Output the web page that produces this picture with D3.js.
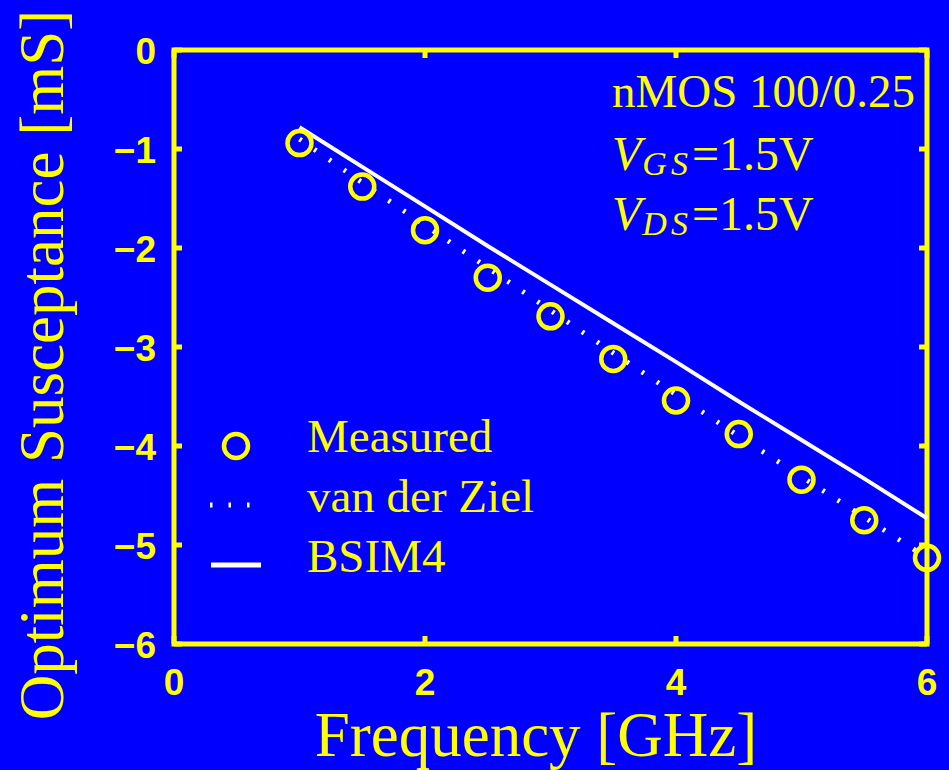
<!DOCTYPE html>
<html lang="en">
<head>
<meta charset="utf-8">
<script src="https://d3js.org/d3.v7.min.js"></script>
<style type="text/css">
body {
	margin: 0;
	background-color: #0000ff;
}
.tick-label {
	font-family: "Liberation Sans", Arial, sans-serif;
	font-weight: bold;
	font-size: 37px;
	fill: #ffff00;
}
.serif {
	font-family: "Liberation Serif", "Times New Roman", serif;
	fill: #ffff00;
}
</style>
</head>
<body>
<script type="text/javascript">

// chart data
var freq = [1, 1.5, 2, 2.5, 3, 3.5, 4, 4.5, 5, 5.5, 6];
var measured = [-0.94, -1.38, -1.82, -2.30, -2.69, -3.12, -3.54, -3.88, -4.34, -4.75, -5.13];
var vanDerZiel = [-0.90, -1.34, -1.77, -2.20, -2.63, -3.06, -3.48, -3.90, -4.31, -4.72, -5.13];
var bsim4 = [-0.78, -1.18, -1.58, -1.98, -2.37, -2.76, -3.15, -3.55, -3.94, -4.33, -4.73];
var xTicks = [0, 2, 4, 6];
var yTicks = [0, -1, -2, -3, -4, -5, -6];

var width = 949;
var height = 770;
var yellow = "#ffff00";

var svg = d3.select("body")
  .append("svg")
  .attr("width", width)
  .attr("height", height);

svg.append("rect")
  .attr("width", width)
  .attr("height", height)
  .style("fill", "#0000ff");

var x = d3.scaleLinear().domain([0, 6]).range([174, 927]);
var y = d3.scaleLinear().domain([-6, 0]).range([644, 50]);

// inward tick marks on all four sides
var tickLen = 8;
yTicks.forEach(function(t) {
  svg.append("line")
    .attr("x1", x(0)).attr("x2", x(0) + tickLen)
    .attr("y1", y(t)).attr("y2", y(t))
    .style("stroke", yellow).style("stroke-width", 5);
  svg.append("line")
    .attr("x1", x(6)).attr("x2", x(6) - tickLen)
    .attr("y1", y(t)).attr("y2", y(t))
    .style("stroke", yellow).style("stroke-width", 5);
  svg.append("text")
    .attr("class", "tick-label")
    .attr("x", 156)
    .attr("y", y(t) + 14)
    .attr("text-anchor", "end")
    .text(t < 0 ? "\u2212" + Math.abs(t) : t);
});
xTicks.forEach(function(t) {
  svg.append("line")
    .attr("x1", x(t)).attr("x2", x(t))
    .attr("y1", y(-6)).attr("y2", y(-6) - tickLen)
    .style("stroke", yellow).style("stroke-width", 5);
  svg.append("line")
    .attr("x1", x(t)).attr("x2", x(t))
    .attr("y1", y(0)).attr("y2", y(0) + tickLen)
    .style("stroke", yellow).style("stroke-width", 5);
  svg.append("text")
    .attr("class", "tick-label")
    .attr("x", x(t))
    .attr("y", 695)
    .attr("text-anchor", "middle")
    .text(t);
});

// axes box
svg.append("rect")
  .attr("x", x(0)).attr("y", y(0))
  .attr("width", x(6) - x(0))
  .attr("height", y(-6) - y(0))
  .style("fill", "none")
  .style("stroke", yellow)
  .style("stroke-width", 5);

var line = d3.line()
  .x(function(d) { return x(d[0]); })
  .y(function(d) { return y(d[1]); });

// BSIM4 solid line
svg.append("path")
  .datum(freq.map(function(f, i) { return [f, bsim4[i]]; }))
  .attr("d", line)
  .style("fill", "none")
  .style("stroke", "#ffffff")
  .style("stroke-width", 4);

// van der Ziel dotted line
svg.append("path")
  .datum(freq.map(function(f, i) { return [f, vanDerZiel[i]]; }))
  .attr("d", line)
  .style("fill", "none")
  .style("stroke", "#ffffff")
  .style("stroke-width", 5)
  .style("stroke-dasharray", "2.5,15.5");

// measured circles
svg.selectAll("circle.meas")
  .data(freq.map(function(f, i) { return [f, measured[i]]; }))
  .enter()
  .append("circle")
  .attr("class", "meas")
  .attr("cx", function(d) { return x(d[0]); })
  .attr("cy", function(d) { return y(d[1]); })
  .attr("r", 12)
  .style("fill", "none")
  .style("stroke", yellow)
  .style("stroke-width", 4.5);

// legend
svg.append("circle")
  .attr("cx", 236).attr("cy", 446).attr("r", 12)
  .style("fill", "none").style("stroke", yellow).style("stroke-width", 4.5);
svg.append("line")
  .attr("x1", 210).attr("x2", 262).attr("y1", 505).attr("y2", 505)
  .style("stroke", "#ffffff").style("stroke-width", 5)
  .style("stroke-dasharray", "2.5,16");
svg.append("line")
  .attr("x1", 211).attr("x2", 261).attr("y1", 565).attr("y2", 565)
  .style("stroke", "#ffffff").style("stroke-width", 5);

var legendNames = ["Measured", "van der Ziel", "BSIM4"];
legendNames.forEach(function(name, i) {
  svg.append("text")
    .attr("class", "serif")
    .attr("x", 307)
    .attr("y", 452 + i * 60)
    .style("font-size", "47px")
    .text(name);
});

// annotation
svg.append("text")
  .attr("class", "serif")
  .attr("x", 612).attr("y", 107)
  .style("font-size", "47px")
  .text("nMOS 100/0.25");

[["GS", 170], ["DS", 230]].forEach(function(a) {
  var t = svg.append("text")
    .attr("class", "serif")
    .attr("x", 612).attr("y", a[1])
    .style("font-size", "48px");
  t.append("tspan").style("font-style", "italic").text("V");
  t.append("tspan")
    .style("font-style", "italic")
    .style("font-size", "34px")
    .style("letter-spacing", "4px")
    .attr("dx", 1)
    .attr("dy", 5)
    .text(a[0]);
  t.append("tspan").attr("dy", -5).text("=1.5V");
});

// axis titles
svg.append("text")
  .attr("class", "serif")
  .attr("x", 536).attr("y", 756)
  .attr("text-anchor", "middle")
  .style("font-size", "63px")
  .text("Frequency [GHz]");

svg.append("text")
  .attr("class", "serif")
  .attr("transform", "translate(63,365) rotate(-90)")
  .attr("text-anchor", "middle")
  .style("font-size", "63px")
  .text("Optimum Susceptance [mS]");

</script>
</body>
</html>
